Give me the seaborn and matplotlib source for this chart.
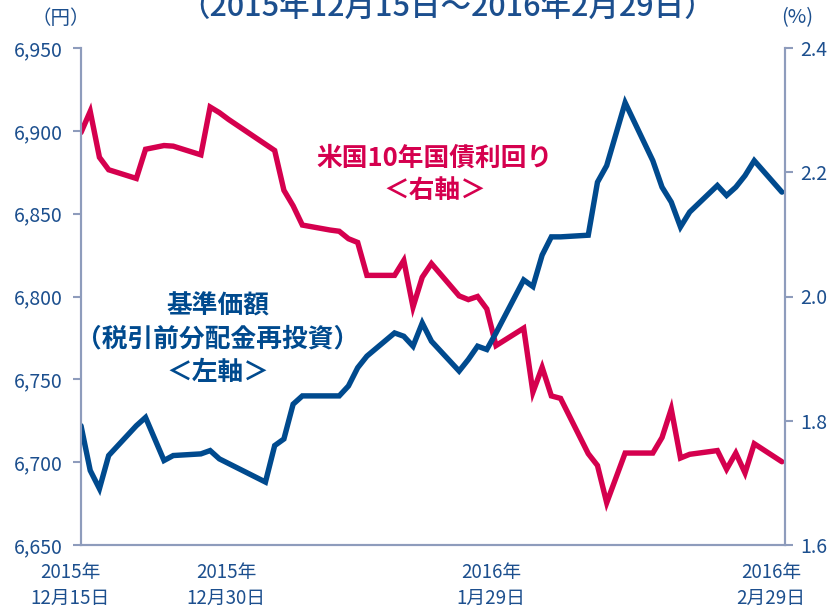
import matplotlib
matplotlib.use("Agg")
import matplotlib.pyplot as plt
import matplotlib.transforms as mtransforms
import seaborn as sns
import pandas as pd

# ---------------- data ----------------
nav_dates = [
    "2015-12-15", "2015-12-16", "2015-12-17", "2015-12-18", "2015-12-21", "2015-12-22",
    "2015-12-24", "2015-12-25", "2015-12-28", "2015-12-29", "2015-12-30",
    "2016-01-04", "2016-01-05", "2016-01-06", "2016-01-07", "2016-01-08", "2016-01-12",
    "2016-01-13", "2016-01-14", "2016-01-15", "2016-01-18", "2016-01-19", "2016-01-20",
    "2016-01-21", "2016-01-22", "2016-01-25", "2016-01-26", "2016-01-27", "2016-01-28",
    "2016-01-29",
    "2016-02-01", "2016-02-02", "2016-02-03", "2016-02-04", "2016-02-05", "2016-02-08",
    "2016-02-09", "2016-02-10", "2016-02-12", "2016-02-15", "2016-02-16", "2016-02-17",
    "2016-02-18", "2016-02-19", "2016-02-22", "2016-02-23", "2016-02-24", "2016-02-25",
    "2016-02-26", "2016-02-29",
]
nav_values = [
    6722, 6695, 6684, 6704, 6722, 6727,
    6701, 6704, 6705, 6707, 6702,
    6688, 6710, 6714, 6735, 6740, 6740,
    6746, 6757, 6764, 6778, 6776, 6770,
    6784, 6773, 6755, 6762, 6770, 6768,
    6778,
    6810, 6806, 6825, 6836, 6836, 6837,
    6869, 6879, 6917, 6882, 6866, 6857,
    6842, 6851, 6867, 6861, 6866, 6873,
    6882, 6863,
]

yield_dates = [
    "2015-12-15", "2015-12-16", "2015-12-17", "2015-12-18", "2015-12-21", "2015-12-22",
    "2015-12-23", "2015-12-24", "2015-12-25", "2015-12-28", "2015-12-29", "2015-12-30",
    "2015-12-31",
    "2016-01-04", "2016-01-05", "2016-01-06", "2016-01-07", "2016-01-08", "2016-01-11",
    "2016-01-12", "2016-01-13", "2016-01-14", "2016-01-15", "2016-01-18", "2016-01-19",
    "2016-01-20", "2016-01-21", "2016-01-22", "2016-01-25", "2016-01-26", "2016-01-27",
    "2016-01-28", "2016-01-29",
    "2016-02-01", "2016-02-02", "2016-02-03", "2016-02-04", "2016-02-05", "2016-02-08",
    "2016-02-09", "2016-02-10", "2016-02-11", "2016-02-12", "2016-02-15", "2016-02-16",
    "2016-02-17", "2016-02-18", "2016-02-19", "2016-02-22", "2016-02-23", "2016-02-24",
    "2016-02-25", "2016-02-26", "2016-02-29",
]
yield_values = [
    2.264, 2.298, 2.224, 2.204, 2.190, 2.237,
    2.240, 2.243, 2.242, 2.228, 2.305, 2.296,
    2.285,
    2.245, 2.235, 2.171, 2.146, 2.115, 2.107,
    2.105, 2.093, 2.087, 2.034, 2.034, 2.058,
    1.983, 2.031, 2.053, 2.001, 1.995, 2.000,
    1.980, 1.921,
    1.949, 1.846, 1.886, 1.840, 1.836, 1.747,
    1.728, 1.668, 1.708, 1.748, 1.748, 1.773,
    1.819, 1.740, 1.746, 1.752, 1.722, 1.748,
    1.716, 1.763, 1.734,
]

left_ticks = [6650, 6700, 6750, 6800, 6850, 6900, 6950]
left_tick_labels = ["6,650", "6,700", "6,750", "6,800", "6,850", "6,900", "6,950"]
right_ticks = [1.6, 1.8, 2.0, 2.2, 2.4]
right_tick_labels = ["1.6", "1.8", "2.0", "2.2", "2.4"]
x_tick_dates = ["2015-12-15", "2015-12-30", "2016-01-29", "2016-02-29"]
x_tick_labels = ["2015年\n12月15日", "2015年\n12月30日", "2016年\n1月29日", "2016年\n2月29日"]

title_text = "（2015年12月15日～2016年2月29日）"
nav_label = "基準価額\n（税引前分配金再投資）\n＜左軸＞"
yield_label = "米国10年国債利回り\n＜右軸＞"

# ---------------- style ----------------
sns.set_style("white")
plt.rcParams["font.family"] = ["Noto Sans CJK JP", "DejaVu Sans"]

BLUE = "#004A8E"
RED = "#D5004E"
TXT = "#1C4F8E"
SPINE = "#8E9CBC"

nav_df = pd.DataFrame({"date": pd.to_datetime(nav_dates), "nav": nav_values})
yld_df = pd.DataFrame({"date": pd.to_datetime(yield_dates), "yld": yield_values})

fig = plt.figure(figsize=(8.29, 6.07), dpi=100)
ax = fig.add_axes([81 / 829, 1 - 545 / 607, (785 - 81) / 829, (545 - 48) / 607])
ax2 = ax.twinx()

sns.lineplot(data=yld_df, x="date", y="yld", ax=ax2, color=RED, linewidth=3.9,
             estimator=None, solid_joinstyle="miter")
sns.lineplot(data=nav_df, x="date", y="nav", ax=ax, color=BLUE, linewidth=3.9,
             estimator=None, solid_joinstyle="miter")

ax.set_zorder(ax2.get_zorder() + 1)
ax.patch.set_visible(False)

ax.set_xlim(pd.Timestamp("2015-12-15"), pd.Timestamp("2016-02-29 08:00"))
ax.set_ylim(6650, 6950)
ax2.set_ylim(1.6, 2.4)

ax.set_yticks(left_ticks)
ax.set_yticklabels(left_tick_labels)
ax2.set_yticks(right_ticks)
ax2.set_yticklabels(right_tick_labels)
ax.set_xticks(pd.to_datetime(x_tick_dates))
ax.set_xticklabels(x_tick_labels, linespacing=1.3)

for a in (ax, ax2):
    a.set_xlabel("")
    a.set_ylabel("")
    a.grid(False)
    for s in a.spines.values():
        s.set_color(SPINE)
        s.set_linewidth(1.5)
    a.spines["top"].set_visible(False)

ax.tick_params(axis="y", direction="out", length=6, width=1.5, color=SPINE,
               labelcolor=TXT, labelsize=14, pad=7)
ax2.tick_params(axis="y", direction="out", length=6, width=1.5, color=SPINE,
                labelcolor=TXT, labelsize=14, pad=5)
ax.tick_params(axis="x", length=0, labelcolor=TXT, labelsize=13.5, pad=12)

# small horizontal shifts of the date labels, as in the reference
shifts_px = [-11, 7, -5, -11]
for lab, dx in zip(ax.get_xticklabels(), shifts_px):
    lab.set_transform(lab.get_transform() +
                      mtransforms.ScaledTranslation(dx / 100, 0, fig.dpi_scale_trans))

# texts
fig.text(447 / 829, 1 - 16 / 607, title_text, ha="center", va="baseline",
         color=TXT, fontsize=22, fontweight="medium")
fig.text(61 / 829, 1 - 18 / 607, "（円）", ha="center", va="center",
         color=TXT, fontsize=14)
fig.text(797 / 829, 1 - 18 / 607, "(%)", ha="center", va="center",
         color=TXT, fontsize=14.5)

fig.text(218 / 829, 1 - 339 / 607, nav_label, ha="center", va="center",
         color=BLUE, fontsize=18.5, fontweight="bold", linespacing=1.3)
fig.text(435 / 829, 1 - 174 / 607, yield_label, ha="center", va="center",
         color=RED, fontsize=18.5, fontweight="bold", linespacing=1.25)

fig.savefig("out.png", dpi=100)
